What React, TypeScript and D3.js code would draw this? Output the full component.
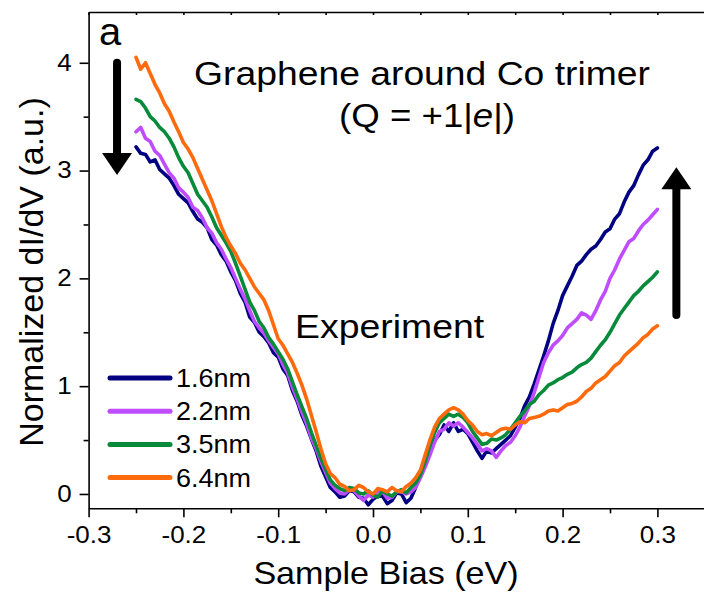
import React, { useEffect, useRef } from "react";
import * as d3 from "d3";

// sample bias (eV)
const bias = [
  -0.25, -0.245, -0.24, -0.235, -0.23, -0.225, -0.22, -0.215, -0.21, -0.205,
  -0.2, -0.195, -0.19, -0.185, -0.18, -0.175, -0.17, -0.165, -0.16, -0.155,
  -0.15, -0.145, -0.14, -0.135, -0.13, -0.125, -0.12, -0.115, -0.11, -0.105,
  -0.1, -0.095, -0.09, -0.085, -0.08, -0.075, -0.07, -0.065, -0.06, -0.055,
  -0.05, -0.045, -0.04, -0.035, -0.03, -0.025, -0.02, -0.015, -0.01, -0.005,
  0.0, 0.005, 0.01, 0.015, 0.02, 0.025, 0.03, 0.035, 0.04, 0.045,
  0.05, 0.055, 0.06, 0.065, 0.07, 0.075, 0.08, 0.085, 0.09, 0.095,
  0.1, 0.105, 0.11, 0.115, 0.12, 0.125, 0.13, 0.135, 0.14, 0.145,
  0.15, 0.155, 0.16, 0.165, 0.17, 0.175, 0.18, 0.185, 0.19, 0.195,
  0.2, 0.205, 0.21, 0.215, 0.22, 0.225, 0.23, 0.235, 0.24, 0.245,
  0.25, 0.255, 0.26, 0.265, 0.27, 0.275, 0.28, 0.285, 0.29, 0.295,
  0.3,
];

// normalized dI/dV for each tip distance
const dos16 = [
  3.22, 3.16, 3.15, 3.08, 3.1, 3.01, 2.97, 2.93, 2.86, 2.78,
  2.74, 2.7, 2.62, 2.55, 2.52, 2.47, 2.36, 2.31, 2.22, 2.16,
  2.06, 1.98, 1.86, 1.78, 1.64, 1.59, 1.5, 1.46, 1.4, 1.31,
  1.27, 1.16, 1.1, 0.96, 0.86, 0.73, 0.63, 0.51, 0.4, 0.26,
  0.16, 0.06, 0.02, -0.03, -0.02, 0.03, 0.02, -0.03, -0.04, -0.1,
  -0.05, -0.02, -0.02, -0.09, -0.06, 0.01, 0.0, -0.08, -0.04, 0.06,
  0.18, 0.3, 0.4, 0.5, 0.55, 0.64, 0.58, 0.66, 0.58, 0.6,
  0.56, 0.48, 0.4, 0.33, 0.4, 0.38, 0.42, 0.46, 0.5, 0.54,
  0.62, 0.7, 0.82, 0.9, 1.02, 1.15, 1.28, 1.42, 1.58, 1.7,
  1.84, 1.93, 2.02, 2.12, 2.16, 2.22, 2.27, 2.3, 2.36, 2.43,
  2.46, 2.55, 2.6, 2.71, 2.8, 2.86, 2.96, 3.05, 3.1, 3.18,
  3.21,
];
const dos22 = [
  3.36, 3.4, 3.3, 3.27, 3.18, 3.14, 3.06, 2.98, 2.93, 2.84,
  2.8, 2.75, 2.66, 2.63, 2.56, 2.47, 2.42, 2.33, 2.27, 2.18,
  2.1, 2.0, 1.9, 1.81, 1.7, 1.6, 1.54, 1.49, 1.42, 1.36,
  1.3, 1.2, 1.12, 0.99, 0.88, 0.76, 0.65, 0.52, 0.42, 0.3,
  0.2, 0.1, 0.05, 0.01, 0.0, 0.04, 0.03, -0.02, -0.06, -0.01,
  -0.03, 0.03, 0.02, -0.04, -0.03, 0.02, 0.02, 0.0, 0.02, 0.06,
  0.15, 0.25, 0.36, 0.48, 0.58, 0.6, 0.66, 0.63, 0.66, 0.62,
  0.57, 0.52, 0.46, 0.4, 0.42, 0.4, 0.34, 0.4, 0.45, 0.48,
  0.54, 0.62, 0.72, 0.82, 0.94, 1.08, 1.22, 1.31, 1.38, 1.42,
  1.47, 1.54, 1.58, 1.62, 1.68, 1.66, 1.62, 1.7, 1.8, 1.88,
  2.0, 2.08, 2.18, 2.26, 2.34, 2.37, 2.44, 2.5, 2.54, 2.59,
  2.64,
];
const dos35 = [
  3.66, 3.64, 3.58, 3.5, 3.46, 3.4, 3.36, 3.3, 3.22, 3.12,
  3.04, 2.98, 2.88, 2.78, 2.72, 2.66, 2.57, 2.47, 2.4, 2.33,
  2.25, 2.14, 2.02, 1.9, 1.78, 1.7, 1.6, 1.54, 1.45, 1.39,
  1.32, 1.25, 1.16, 1.04, 0.92, 0.81, 0.7, 0.57, 0.45, 0.33,
  0.23, 0.13, 0.08, 0.05, 0.03, 0.06, 0.05, 0.01, 0.0, 0.03,
  -0.01, -0.03, 0.03, 0.0, -0.02, 0.02, 0.04, 0.01, 0.06, 0.1,
  0.18, 0.3, 0.45, 0.57, 0.66, 0.7, 0.74, 0.72, 0.74, 0.71,
  0.66, 0.58, 0.52, 0.46, 0.47, 0.51, 0.5, 0.52, 0.55, 0.6,
  0.66, 0.72, 0.77, 0.83, 0.86, 0.92, 0.96, 1.01, 1.03, 1.06,
  1.08, 1.11, 1.13, 1.17, 1.2, 1.22, 1.26, 1.32, 1.38, 1.43,
  1.5, 1.58, 1.66, 1.72, 1.78, 1.84, 1.88, 1.93, 1.97, 2.01,
  2.06,
];
const dos64 = [
  4.05, 3.94, 4.0, 3.9, 3.8, 3.72, 3.62, 3.55, 3.45, 3.36,
  3.26, 3.2, 3.12, 3.02, 2.92, 2.82, 2.72, 2.6, 2.48, 2.38,
  2.3, 2.23, 2.14, 2.08, 2.0, 1.92, 1.86, 1.8, 1.7, 1.57,
  1.44, 1.38, 1.3, 1.22, 1.12, 1.01, 0.88, 0.73, 0.58, 0.42,
  0.28, 0.19, 0.15, 0.09, 0.07, 0.03, 0.04, 0.08, 0.06, 0.02,
  0.0, 0.05, 0.04, 0.02, 0.06, 0.03, 0.02, 0.07, 0.1, 0.15,
  0.22, 0.36, 0.5, 0.62, 0.7, 0.74, 0.78, 0.8, 0.78, 0.74,
  0.68, 0.64, 0.58, 0.55, 0.56, 0.54, 0.57, 0.6, 0.61, 0.6,
  0.64, 0.67, 0.66, 0.7, 0.71, 0.72, 0.74, 0.77, 0.78, 0.77,
  0.8, 0.83, 0.84, 0.86, 0.9, 0.95, 0.98, 1.03, 1.06, 1.09,
  1.14, 1.19, 1.22, 1.28, 1.32, 1.36, 1.4, 1.45, 1.48, 1.53,
  1.56,
];

const seriesNames = ["1.6nm", "2.2nm", "3.5nm", "6.4nm"];
const seriesColors = ["#000080", "#bf4dff", "#078a3a", "#ff6a0d"];
const seriesValues = [dos16, dos22, dos35, dos64];

const xTicks = [-0.3, -0.2, -0.1, 0.0, 0.1, 0.2, 0.3];
const xMinorTicks = [-0.25, -0.15, -0.05, 0.05, 0.15, 0.25, 0.35];
const yTicks = [0, 1, 2, 3, 4];
const yMinorTicks = [0.5, 1.5, 2.5, 3.5];

export default function App() {
  const ref = useRef<SVGSVGElement>(null);

  useEffect(() => {
    const width = 704;
    const height = 595;
    const marginLeft = 88.6;
    const marginTop = 12;
    const marginBottom = 86.7;
    const font = "'Liberation Sans', Arial, Helvetica, sans-serif";

    const x = d3.scaleLinear().domain([-0.3, 0.35]).range([marginLeft, 704.8]);
    const y = d3
      .scaleLinear()
      .domain([-0.133, 4.471])
      .range([height - marginBottom, marginTop]);

    const svg = d3.select(ref.current);
    svg.selectAll("*").remove();

    // text helper, the original lettering is a bit wide
    const label = (
      str: string,
      tx: number,
      ty: number,
      size: number,
      sx: number,
      anchor = "start"
    ) =>
      svg
        .append("text")
        .attr("transform", `translate(${tx},${ty}) scale(${sx},1)`)
        .attr("font-family", font)
        .attr("font-size", size)
        .attr("text-anchor", anchor)
        .attr("fill", "#000")
        .text(str);

    const styleAxis = (g) => {
      g.select(".domain").attr("stroke", "#000").attr("stroke-width", 1.6);
      g.selectAll(".tick line").attr("stroke", "#000").attr("stroke-width", 1.6);
    };

    // bottom axis
    svg
      .append("g")
      .attr("transform", `translate(0,${y.range()[0]})`)
      .call(
        d3
          .axisBottom(x)
          .tickValues(xTicks)
          .tickSize(9)
          .tickPadding(9)
          .tickSizeOuter(0)
          .tickFormat((d) => (+d).toFixed(1))
      )
      .call(styleAxis)
      .call((g) =>
        g
          .selectAll(".tick text")
          .attr("font-family", font)
          .attr("font-size", 23)
          .attr("fill", "#000")
          .attr("transform", "scale(1.13,1)")
      );
    svg
      .append("g")
      .attr("transform", `translate(0,${y.range()[0]})`)
      .call(d3.axisBottom(x).tickValues(xMinorTicks).tickSize(5).tickFormat(() => ""))
      .call(styleAxis)
      .call((g) => g.select(".domain").remove());

    // top frame
    svg
      .append("g")
      .attr("transform", `translate(0,${marginTop})`)
      .call(
        d3
          .axisTop(x)
          .tickValues(xTicks.concat(xMinorTicks))
          .tickSize(-3)
          .tickSizeOuter(0)
          .tickFormat(() => "")
      )
      .call(styleAxis);

    // left axis
    svg
      .append("g")
      .attr("transform", `translate(${marginLeft},0)`)
      .call(
        d3
          .axisLeft(y)
          .tickValues(yTicks)
          .tickSize(9)
          .tickPadding(8)
          .tickSizeOuter(0)
          .tickFormat((d) => String(d))
      )
      .call(styleAxis)
      .call((g) =>
        g
          .selectAll(".tick text")
          .attr("font-family", font)
          .attr("font-size", 23)
          .attr("fill", "#000")
          .attr("x", -17 / 1.13)
          .attr("transform", "scale(1.13,1)")
      );
    svg
      .append("g")
      .attr("transform", `translate(${marginLeft},0)`)
      .call(d3.axisLeft(y).tickValues(yMinorTicks).tickSize(5).tickFormat(() => ""))
      .call(styleAxis)
      .call((g) => g.select(".domain").remove());

    // curves
    seriesValues.forEach((vals, k) => {
      const line = d3
        .line<number>()
        .x((_, i) => x(bias[i]))
        .y((d) => y(d));
      svg
        .append("path")
        .datum(vals)
        .attr("fill", "none")
        .attr("stroke", seriesColors[k])
        .attr("stroke-width", 3.6)
        .attr("stroke-linejoin", "round")
        .attr("stroke-linecap", "round")
        .attr("d", line);
    });

    // legend
    seriesNames.forEach((name, k) => {
      const ly = 378 + k * 33.2;
      svg
        .append("line")
        .attr("x1", 110)
        .attr("x2", 170)
        .attr("y1", ly)
        .attr("y2", ly)
        .attr("stroke", seriesColors[k])
        .attr("stroke-width", 5)
        .attr("stroke-linecap", "round");
      label(name, 176, ly + 9, 25, 1.08);
    });

    // arrows
    const arrow = (xv: number, from: number, to: number) => {
      const ax = x(xv);
      const y0 = y(from);
      const y1 = y(to);
      const dir = y1 > y0 ? 1 : -1;
      const headLen = 22;
      svg
        .append("line")
        .attr("x1", ax)
        .attr("x2", ax)
        .attr("y1", y0)
        .attr("y2", y1 - dir * headLen)
        .attr("stroke", "#000")
        .attr("stroke-width", 8)
        .attr("stroke-linecap", "round");
      svg
        .append("path")
        .attr(
          "d",
          `M${ax - 15},${y1 - dir * headLen} L${ax + 15},${y1 - dir * headLen} L${ax},${y1} Z`
        )
        .attr("fill", "#000");
    };
    arrow(-0.27, 4.0, 2.96);
    arrow(0.32, 1.66, 3.03);

    // annotations
    label("a", 99, 45, 38, 1.05);
    label("Graphene around Co trimer", 422, 85, 33, 1.13, "middle");
    const q = label("", 427, 127, 33, 1.11, "middle");
    q.append("tspan").text("(Q = +1|");
    q.append("tspan").attr("font-style", "italic").text("e");
    q.append("tspan").text("|)");
    label("Experiment", 295, 338, 34, 1.1);

    // axis titles
    label("Sample Bias (eV)", 386, 584, 31, 1.1, "middle");
    svg
      .append("text")
      .attr("transform", `translate(43,272) rotate(-90)`)
      .attr("font-family", font)
      .attr("font-size", 34)
      .attr("text-anchor", "middle")
      .attr("fill", "#000")
      .text("Normalized dI/dV (a.u.)");
  }, []);

  return (
    <svg
      ref={ref}
      width={704}
      height={595}
      style={{ position: "absolute", left: 0, top: 0, background: "#fff" }}
    />
  );
}
